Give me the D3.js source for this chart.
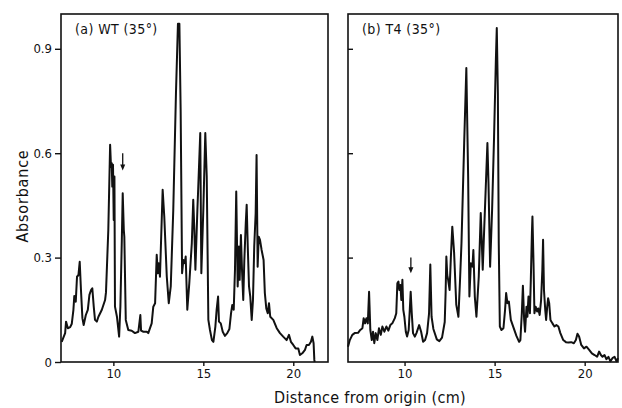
<!DOCTYPE html>
<html>
<head>
<meta charset="utf-8">
<script src="https://cdn.jsdelivr.net/npm/d3@7"></script>
<style>
  body { margin: 0; background: #fff; }
  text { font-family: "DejaVu Sans Condensed", "DejaVu Sans", sans-serif; fill: #111; }
</style>
</head>
<body>
<div id="canvas"></div>
<script>
// (a) WT (35°) densitometer trace
const wtDist = [7.13, 7.32, 7.37, 7.47, 7.6, 7.69, 7.78, 7.83, 7.91, 7.98, 8.06, 8.13, 8.2, 8.28, 8.35, 8.47, 8.58, 8.67, 8.76, 8.83,
  8.91, 8.98, 9.08, 9.17, 9.36, 9.54, 9.59, 9.72, 9.82, 9.87, 9.91, 9.94, 9.98, 10.02, 10.06, 10.09, 10.2, 10.32, 10.39, 10.47,
  10.52, 10.58, 10.61, 10.69, 10.83, 11.02, 11.2, 11.39, 11.5, 11.54, 11.67, 11.86, 11.94, 12.13, 12.22, 12.32, 12.41, 12.47, 12.52, 12.59,
  12.74, 12.83, 12.97, 13.08, 13.19, 13.33, 13.48, 13.59, 13.67, 13.74, 13.82, 13.89, 13.97, 14.02, 14.11, 14.22, 14.36, 14.44, 14.5, 14.56,
  14.67, 14.72, 14.83, 14.89, 15.0, 15.11, 15.19, 15.28, 15.37, 15.48, 15.56, 15.67, 15.74, 15.82, 15.87, 15.97, 16.08, 16.2, 16.33, 16.45,
  16.54, 16.61, 16.69, 16.76, 16.83, 16.91, 16.98, 17.02, 17.09, 17.15, 17.22, 17.28, 17.36, 17.41, 17.47, 17.54, 17.61, 17.69, 17.76, 17.83,
  17.91, 17.96, 18.02, 18.08, 18.15, 18.24, 18.35, 18.42, 18.5, 18.58, 18.65, 18.72, 18.89, 19.08, 19.26, 19.44, 19.63, 19.76, 19.87, 20.0,
  20.13, 20.28, 20.37, 20.5, 20.65, 20.74, 20.87, 20.98, 21.06, 21.13, 21.17, 21.19];
const wtAbs = [0.058, 0.083, 0.116, 0.097, 0.1, 0.11, 0.15, 0.19, 0.173, 0.245, 0.25, 0.288, 0.207, 0.126, 0.106, 0.135, 0.15, 0.193, 0.207, 0.212,
  0.159, 0.121, 0.116, 0.13, 0.15, 0.178, 0.2, 0.38, 0.624, 0.56, 0.571, 0.504, 0.567, 0.408, 0.533, 0.159, 0.13, 0.073, 0.159, 0.35,
  0.485, 0.38, 0.36, 0.121, 0.092, 0.09, 0.083, 0.087, 0.135, 0.09, 0.087, 0.087, 0.083, 0.111, 0.159, 0.169, 0.308, 0.255, 0.284, 0.245,
  0.495, 0.418, 0.245, 0.169, 0.217, 0.437, 0.773, 0.972, 0.972, 0.725, 0.255, 0.293, 0.284, 0.303, 0.15, 0.226, 0.341, 0.466, 0.38, 0.265,
  0.437, 0.504, 0.658, 0.255, 0.437, 0.658, 0.533, 0.121, 0.092, 0.063, 0.058, 0.102, 0.15, 0.188, 0.116, 0.111, 0.087, 0.075, 0.083, 0.095,
  0.14, 0.164, 0.15, 0.265, 0.49, 0.217, 0.332, 0.236, 0.365, 0.265, 0.178, 0.293, 0.399, 0.452, 0.332, 0.217, 0.188, 0.121, 0.178, 0.332,
  0.428, 0.595, 0.274, 0.36, 0.351, 0.322, 0.293, 0.198, 0.154, 0.14, 0.169, 0.13, 0.121, 0.097, 0.083, 0.073, 0.063, 0.078, 0.058, 0.049,
  0.039, 0.039, 0.02, 0.025, 0.035, 0.049, 0.049, 0.058, 0.073, 0.054, 0.006, 0];

// (b) T4 (35°) densitometer trace
const t4Dist = [6.86, 6.96, 7.1, 7.23, 7.42, 7.54, 7.66, 7.73, 7.81, 7.88, 7.96, 8.03, 8.1, 8.18, 8.25, 8.32, 8.4, 8.49, 8.58, 8.68,
  8.77, 8.88, 8.99, 9.1, 9.21, 9.32, 9.46, 9.54, 9.6, 9.66, 9.71, 9.77, 9.82, 9.88, 9.93, 9.99, 10.07, 10.14, 10.23, 10.29,
  10.34, 10.4, 10.47, 10.57, 10.66, 10.81, 10.92, 11.03, 11.14, 11.25, 11.36, 11.43, 11.5, 11.6, 11.79, 11.93, 12.08, 12.23, 12.28, 12.32,
  12.37, 12.42, 12.5, 12.57, 12.65, 12.75, 12.87, 12.99, 13.08, 13.16, 13.31, 13.43, 13.53, 13.6, 13.68, 13.77, 13.82, 13.9, 13.99, 14.12,
  14.23, 14.29, 14.34, 14.42, 14.51, 14.6, 14.66, 14.75, 14.86, 14.97, 15.07, 15.12, 15.18, 15.23, 15.29, 15.38, 15.49, 15.58, 15.64, 15.71,
  15.79, 15.9, 16.04, 16.21, 16.36, 16.43, 16.51, 16.57, 16.64, 16.69, 16.77, 16.82, 16.88, 16.96, 17.01, 17.07, 17.1, 17.16, 17.21, 17.28,
  17.36, 17.42, 17.5, 17.58, 17.65, 17.69, 17.74, 17.81, 17.86, 17.92, 17.97, 18.03, 18.1, 18.21, 18.32, 18.43, 18.54, 18.65, 18.81, 18.96,
  19.1, 19.25, 19.4, 19.51, 19.6, 19.69, 19.81, 19.96, 20.1, 20.25, 20.4, 20.55, 20.69, 20.8, 20.9, 20.99, 21.1, 21.21, 21.32, 21.43,
  21.54, 21.66, 21.77, 21.85];
const t4Abs = [0.044, 0.063, 0.078, 0.083, 0.084, 0.092, 0.097, 0.126, 0.111, 0.126, 0.111, 0.202, 0.092, 0.063, 0.087, 0.054, 0.083, 0.063, 0.097, 0.078,
  0.102, 0.087, 0.102, 0.09, 0.106, 0.111, 0.126, 0.14, 0.226, 0.231, 0.207, 0.221, 0.178, 0.236, 0.15, 0.13, 0.087, 0.073, 0.092, 0.15,
  0.202, 0.14, 0.083, 0.073, 0.083, 0.106, 0.087, 0.058, 0.063, 0.083, 0.14, 0.28, 0.13, 0.095, 0.065, 0.06, 0.07, 0.115, 0.2, 0.303,
  0.25, 0.236, 0.207, 0.3, 0.389, 0.315, 0.165, 0.13, 0.236, 0.341, 0.629, 0.845, 0.533, 0.188, 0.284, 0.274, 0.322, 0.188, 0.13, 0.245,
  0.428, 0.341, 0.265, 0.38, 0.504, 0.629, 0.514, 0.274, 0.437, 0.648, 0.869, 0.96, 0.773, 0.341, 0.102, 0.092, 0.097, 0.15, 0.198, 0.169,
  0.174, 0.121, 0.1, 0.075, 0.058, 0.063, 0.14, 0.219, 0.121, 0.087, 0.159, 0.13, 0.188, 0.14, 0.236, 0.37, 0.418, 0.284, 0.14, 0.159,
  0.145, 0.154, 0.135, 0.178, 0.265, 0.351, 0.207, 0.15, 0.121, 0.159, 0.183, 0.169, 0.121, 0.111, 0.102, 0.106, 0.102, 0.083, 0.063, 0.057,
  0.056, 0.057, 0.054, 0.063, 0.081, 0.073, 0.049, 0.039, 0.044, 0.035, 0.025, 0.02, 0.015, 0.03, 0.02, 0.015, 0.02, 0.008, 0.015, 0.002,
  0.011, 0.015, 0.002, 0.011];

const panelTitles = ["(a) WT (35°)", "(b) T4 (35°)"];
const arrowDist = [10.52, 10.35];      // arrows above the marked band
const arrowAbs = [[0.6, 0.55], [0.3, 0.255]];
const xTicks = [10, 15, 20];
const yTicks = [0, 0.3, 0.6, 0.9];
const yTickLabels = ["0", "0.3", "0.6", "0.9"];

const width = 622;
const height = 408;
const font = "'DejaVu Sans Condensed', 'DejaVu Sans', sans-serif";

const svg = d3
  .select("#canvas")
  .append("svg")
  .attr("width", width)
  .attr("height", height);

const y = d3
  .scaleLinear()
  .domain([0, 1.0])
  .range([362, 14]);

const panels = [
  { dist: wtDist, abs: wtAbs, left: 61, right: 328, domain: [7.09, 21.93], labels: true },
  { dist: t4Dist, abs: t4Abs, left: 348, right: 618, domain: [6.86, 21.85], labels: false }
];

panels.forEach((p, i) => {
  const x = d3
    .scaleLinear()
    .domain(p.domain)
    .range([p.left, p.right]);

  const g = svg.append("g");

  // frame
  g.append("rect")
    .attr("x", p.left)
    .attr("y", y(1.0))
    .attr("width", p.right - p.left)
    .attr("height", y(0) - y(1.0))
    .attr("fill", "none")
    .attr("stroke", "#111")
    .attr("stroke-width", 1.6);

  // x axis, outward ticks
  const xAxis = g.append("g")
    .attr("transform", `translate(0, ${y(0)})`)
    .call(d3.axisBottom(x).tickValues(xTicks).tickSize(4).tickPadding(3).tickFormat(d3.format("d")));
  xAxis.select(".domain").remove();
  xAxis.selectAll("line").attr("stroke", "#111").attr("stroke-width", 1.4);
  xAxis.selectAll("text").attr("font-size", 13).attr("fill", "#111").style("font-family", font);

  // y axis: labelled outward ticks on the left panel, bare inward ticks on the right one
  const yAxis = g.append("g")
    .attr("transform", `translate(${p.left}, 0)`)
    .call(p.labels
      ? d3.axisLeft(y).tickValues(yTicks).tickSize(6).tickPadding(3).tickFormat((d, k) => yTickLabels[k])
      : d3.axisRight(y).tickValues(yTicks.slice(1)).tickSize(5).tickFormat(""));
  yAxis.select(".domain").remove();
  yAxis.selectAll("line").attr("stroke", "#111").attr("stroke-width", 1.4);
  yAxis.selectAll("text").attr("font-size", 13).attr("fill", "#111").style("font-family", font);

  // trace
  const line = d3.line()
    .x(d => x(d[0]))
    .y(d => y(d[1]));

  g.append("path")
    .datum(d3.zip(p.dist, p.abs))
    .attr("d", line)
    .attr("fill", "none")
    .attr("stroke", "#111")
    .attr("stroke-width", 2)
    .attr("stroke-linejoin", "round");

  // arrow
  const ax = x(arrowDist[i]);
  const y0 = y(arrowAbs[i][0]);
  const y1 = y(arrowAbs[i][1]);
  g.append("line")
    .attr("x1", ax).attr("x2", ax)
    .attr("y1", y0).attr("y2", y1 - 4)
    .attr("stroke", "#111")
    .attr("stroke-width", 1.3);
  g.append("path")
    .attr("d", `M${ax - 2.5},${y1 - 6}L${ax + 2.5},${y1 - 6}L${ax},${y1}Z`)
    .attr("fill", "#111");

  // panel title
  g.append("text")
    .attr("x", p.left + 14)
    .attr("y", 34)
    .attr("font-size", 14)
    .attr("letter-spacing", 0.4)
    .text(panelTitles[i]);
});

svg.append("text")
  .attr("transform", "translate(28, 196) rotate(-90)")
  .attr("text-anchor", "middle")
  .attr("font-size", 16)
  .attr("letter-spacing", 0.8)
  .text("Absorbance");

svg.append("text")
  .attr("x", 370)
  .attr("y", 403)
  .attr("text-anchor", "middle")
  .attr("font-size", 16)
  .attr("letter-spacing", 0.3)
  .text("Distance from origin (cm)");
</script>
</body>
</html>
